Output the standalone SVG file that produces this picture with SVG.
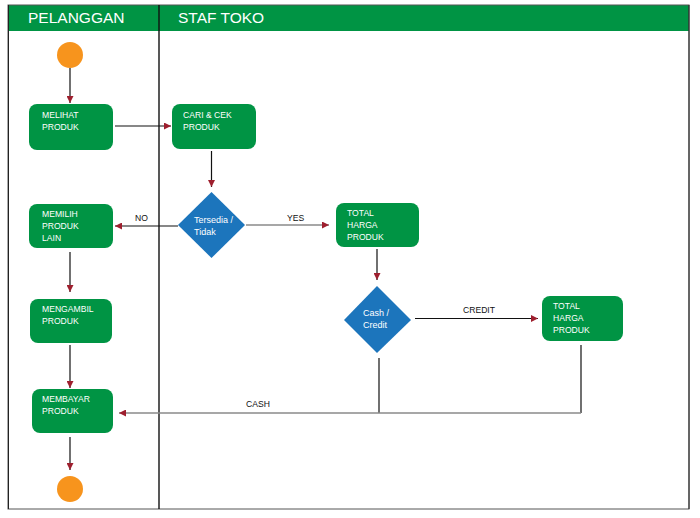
<svg xmlns="http://www.w3.org/2000/svg" width="700" height="518" viewBox="0 0 700 518">
<defs>
<style>
.lane{font-family:"Liberation Sans",Arial,sans-serif;font-size:15.5px;fill:#ffffff}
.box{fill:#009444}
.btxt{font-family:"Liberation Sans",Arial,sans-serif;font-size:8.6px;fill:#ffffff}
.dia{fill:#1c75bc}
.dtxt{font-family:"Liberation Sans",Arial,sans-serif;font-size:9px;fill:#ffffff}
.lbl{font-family:"Liberation Sans",Arial,sans-serif;font-size:8.6px;fill:#111111}
.ln{stroke:#111111;stroke-width:1.2;fill:none}
.gl{stroke:#8a8a8a;stroke-width:1.6;fill:none}
.term{fill:#f7941d}
</style>
<marker id="ah" viewBox="0 0 10 10" refX="10" refY="5" markerWidth="7" markerHeight="7" markerUnits="userSpaceOnUse" orient="auto">
<path d="M0,0 L10,5 L0,10 z" fill="#9e1f2e"/>
</marker>
</defs>
<rect x="0" y="0" width="700" height="518" fill="#ffffff"/>
<g id="frame">
<rect x="8" y="5" width="681" height="26" fill="#009444"/>
<rect x="8" y="5" width="681" height="504" fill="none" stroke="#555555" stroke-width="1"/>
<line x1="8.5" y1="5" x2="8.5" y2="509" stroke="#222222" stroke-width="1"/>
<line x1="689" y1="5" x2="689" y2="509" stroke="#222222" stroke-width="1"/>
<line x1="159" y1="5" x2="159" y2="509" stroke="#111111" stroke-width="1.4"/>
<text class="lane" x="28" y="23">PELANGGAN</text>
<text class="lane" x="178" y="23">STAF TOKO</text>
</g>
<g id="connectors">
<line class="ln" x1="70" y1="68" x2="70" y2="103" marker-end="url(#ah)"/>
<line class="ln" x1="115" y1="126" x2="171" y2="126" marker-end="url(#ah)"/>
<line class="ln" x1="211.5" y1="151" x2="211.5" y2="187" marker-end="url(#ah)"/>
<line class="ln" x1="178" y1="226" x2="115" y2="226" marker-end="url(#ah)"/>
<text class="lbl" x="135" y="221">NO</text>
<line class="gl" x1="246" y1="225" x2="329" y2="225" marker-end="url(#ah)"/>
<text class="lbl" x="287" y="221">YES</text>
<line class="ln" x1="70" y1="252" x2="70" y2="292" marker-end="url(#ah)"/>
<line class="ln" x1="377" y1="249" x2="377" y2="280" marker-end="url(#ah)"/>
<line class="ln" x1="415" y1="318.5" x2="538" y2="318.5" marker-end="url(#ah)"/>
<text class="lbl" x="463" y="313">CREDIT</text>
<line class="ln" x1="70" y1="345" x2="70" y2="388" marker-end="url(#ah)"/>
<line class="ln" x1="379" y1="358" x2="379" y2="413"/>
<line class="ln" x1="581" y1="345" x2="581" y2="413"/>
<line class="gl" x1="581" y1="413" x2="119" y2="413" marker-end="url(#ah)"/>
<text class="lbl" x="246" y="407">CASH</text>
<line class="ln" x1="70" y1="437" x2="70" y2="470" marker-end="url(#ah)"/>
</g>
<g id="start"><circle class="term" cx="70" cy="55" r="13"/></g>
<g id="melihat">
<rect class="box" x="29" y="104" width="84" height="46" rx="8"/>
<text class="btxt" x="42" y="118">MELIHAT</text>
<text class="btxt" x="42" y="129.5">PRODUK</text>
</g>
<g id="cari">
<rect class="box" x="172" y="104" width="84" height="45" rx="8"/>
<text class="btxt" x="183" y="118">CARI &amp; CEK</text>
<text class="btxt" x="183" y="129.5">PRODUK</text>
</g>
<g id="tersedia">
<polygon class="dia" points="211.5,192 245,225 211.5,258 178,225"/>
<text class="dtxt" x="194" y="223">Tersedia /</text>
<text class="dtxt" x="194" y="235">Tidak</text>
</g>
<g id="memilih">
<rect class="box" x="29" y="204" width="84" height="44" rx="8"/>
<text class="btxt" x="42" y="217">MEMILIH</text>
<text class="btxt" x="42" y="229">PRODUK</text>
<text class="btxt" x="42" y="241">LAIN</text>
</g>
<g id="total1">
<rect class="box" x="336" y="203" width="83" height="44" rx="8"/>
<text class="btxt" x="347" y="216">TOTAL</text>
<text class="btxt" x="347" y="228">HARGA</text>
<text class="btxt" x="347" y="240">PRODUK</text>
</g>
<g id="mengambil">
<rect class="box" x="30" y="299" width="82" height="44" rx="8"/>
<text class="btxt" x="42" y="312">MENGAMBIL</text>
<text class="btxt" x="42" y="324">PRODUK</text>
</g>
<g id="cashcredit">
<polygon class="dia" points="377,286 411,320 377,353 344,320"/>
<text class="dtxt" x="363" y="316">Cash /</text>
<text class="dtxt" x="363" y="328">Credit</text>
</g>
<g id="total2">
<rect class="box" x="542" y="296" width="81" height="45" rx="8"/>
<text class="btxt" x="553" y="309">TOTAL</text>
<text class="btxt" x="553" y="321">HARGA</text>
<text class="btxt" x="553" y="333">PRODUK</text>
</g>
<g id="membayar">
<rect class="box" x="32" y="389" width="81" height="44" rx="8"/>
<text class="btxt" x="42" y="402">MEMBAYAR</text>
<text class="btxt" x="42" y="414">PRODUK</text>
</g>
<g id="end"><circle class="term" cx="70" cy="489" r="13"/></g>
</svg>
